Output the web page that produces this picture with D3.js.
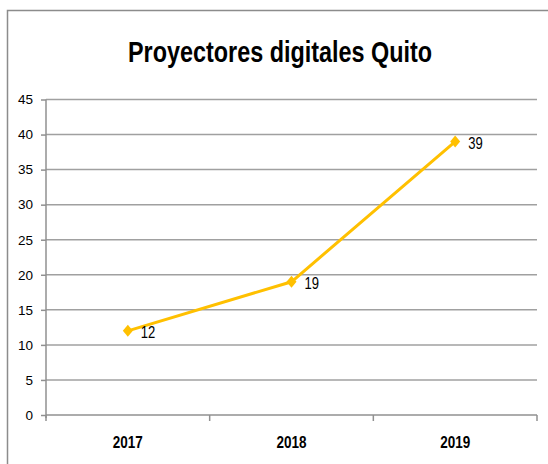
<!DOCTYPE html>
<html><head><meta charset="utf-8">
<script src="https://cdn.jsdelivr.net/npm/d3@7"></script>
<style>body{margin:0;background:#fff}svg{display:block}</style>
</head><body>
<script>
const categories = ["2017","2018","2019"];
const values = [12,19,39];
const yTicks = [0,5,10,15,20,25,30,35,40,45];
const title = "Proyectores digitales Quito";

(function(){
const W=548,H=464;
const svg=d3.select("body").append("svg").attr("width",W).attr("height",H);
svg.append("rect").attr("x",7.5).attr("y",10.5).attr("width",600).attr("height",500)
  .attr("fill","#fff").attr("stroke","#8c8c8c").attr("stroke-width",1.5);

const pLeft=46,pRight=537,pTop=99.5,pBottom=415;
const x=d3.scaleBand().domain(categories).range([pLeft,pRight]);
const y=d3.scaleLinear().domain([0,45]).range([pBottom,pTop]);

svg.append("text").attr("x",280).attr("y",62).attr("text-anchor","middle")
  .attr("font-family","'Liberation Sans',Arial,sans-serif").attr("font-weight","bold")
  .attr("font-size",30).attr("fill","#000")
  .attr("textLength",304).attr("lengthAdjust","spacingAndGlyphs").text(title);

svg.append("g").selectAll("line").data(yTicks.filter(d=>d>0)).join("line")
  .attr("x1",pLeft).attr("x2",pRight).attr("y1",d=>y(d)).attr("y2",d=>y(d))
  .attr("stroke","#a0a0a0").attr("stroke-width",1.5);

const yAxis=svg.append("g").attr("transform",`translate(${pLeft},0)`)
  .call(d3.axisLeft(y).tickValues(yTicks).tickSize(5).tickPadding(8));
yAxis.select(".domain").attr("stroke","#909090").attr("stroke-width",1.5).attr("d",`M0,${pTop}V${pBottom+3}`);
yAxis.selectAll(".tick line").attr("stroke","#909090").attr("stroke-width",1.5);
yAxis.selectAll("text").attr("font-family","'Liberation Sans',Arial,sans-serif").attr("font-size",13.5).attr("fill","#000");

const xAxis=svg.append("g").attr("transform",`translate(0,${pBottom})`)
  .call(d3.axisBottom(x).tickSize(0).tickPadding(0));
xAxis.select(".domain").attr("stroke","#909090").attr("stroke-width",1.5).attr("d",`M${pLeft},0H${pRight}`);
xAxis.selectAll(".tick text").attr("dy",null).attr("y",33)
  .attr("font-family","'Liberation Sans',Arial,sans-serif").attr("font-weight","bold").attr("font-size",16.5).attr("fill","#000")
  .attr("textLength",30).attr("lengthAdjust","spacingAndGlyphs");
svg.append("g").selectAll("line").data(categories.map(c=>x(c)).concat([pRight])).join("line")
  .attr("x1",d=>d).attr("x2",d=>d).attr("y1",pBottom).attr("y2",pBottom+6)
  .attr("stroke","#909090").attr("stroke-width",1.5);

const cx=c=>x(c)+x.bandwidth()/2;
const line=d3.line().x((d,i)=>cx(categories[i])).y(d=>y(d));
svg.append("path").datum(values).attr("d",line).attr("fill","none")
  .attr("stroke","#FFC000").attr("stroke-width",3);
svg.append("g").selectAll("path").data(values).join("path")
  .attr("transform",(d,i)=>`translate(${cx(categories[i])},${y(d)})`)
  .attr("d","M0,-6L5,0L0,6L-5,0Z").attr("fill","#FFC000");
svg.append("g").selectAll("text").data(values).join("text")
  .attr("x",(d,i)=>cx(categories[i])+13).attr("y",d=>y(d)+7)
  .attr("font-family","'Liberation Sans',Arial,sans-serif").attr("font-size",16.5).attr("fill","#000")
  .attr("textLength",14.5).attr("lengthAdjust","spacingAndGlyphs")
  .text(d=>d);
})();
</script>
</body></html>
